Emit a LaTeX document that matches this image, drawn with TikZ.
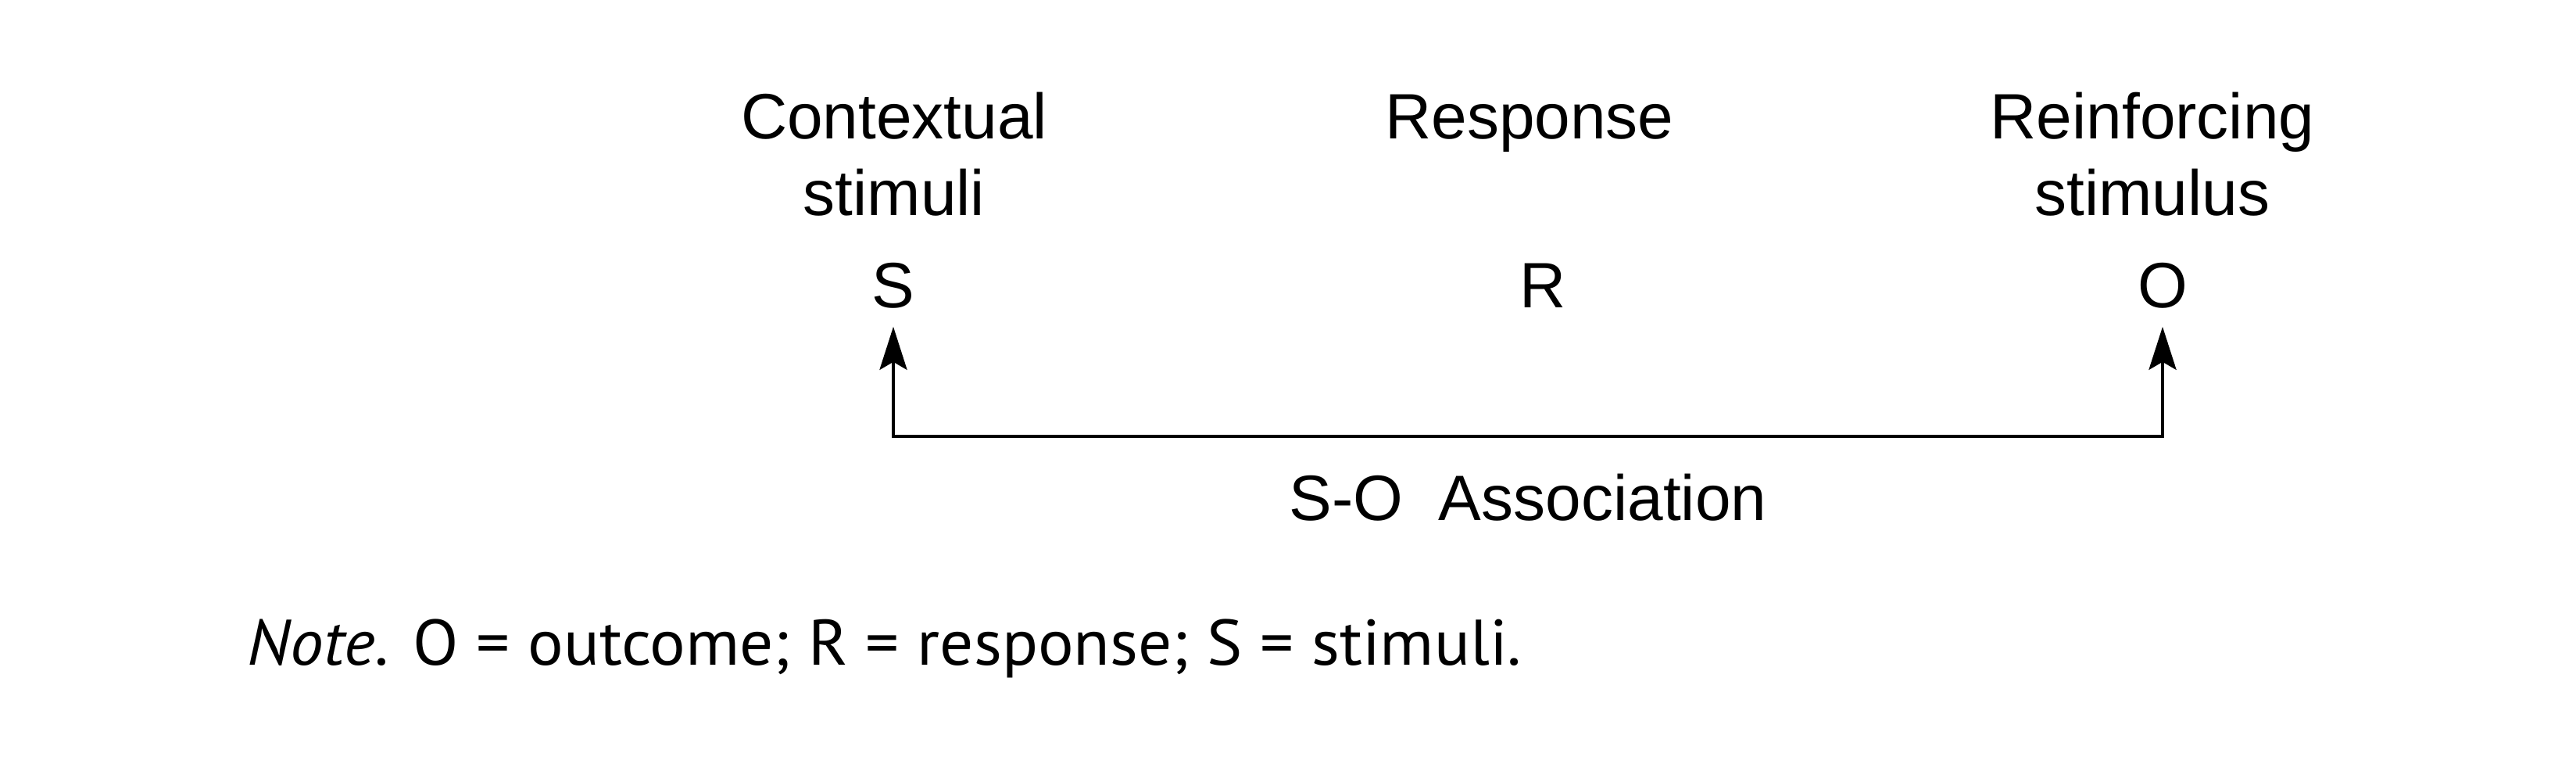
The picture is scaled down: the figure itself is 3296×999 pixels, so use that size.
\documentclass[tikz,border=0pt]{standalone}
\usepackage{fontspec}
\setmainfont{Liberation Sans}
\newfontfamily\notefont{PT Sans}
\usetikzlibrary{arrows.meta}
\begin{document}
\begin{tikzpicture}[x=0.25pt,y=-0.25pt,
  lbl/.style={font=\fontsize{20.5pt}{24.5pt}\selectfont, inner sep=0pt, align=center, anchor=base},
  sym/.style={font=\fontsize{20.5pt}{24.5pt}\selectfont, inner xsep=0pt, inner ysep=6pt, text depth=0pt, anchor=base},
  assoc/.style={font=\fontsize{20.5pt}{24.5pt}\selectfont, inner sep=0pt, anchor=base},
  note/.style={font=\notefont\fontsize{20.6pt}{24pt}\selectfont, inner sep=0pt, anchor=base west},
  link/.style={line width=1.05pt, {Stealth[length=13.75pt,width=8.75pt,inset=2.5pt]}-{Stealth[length=13.75pt,width=8.75pt,inset=2.5pt]}}
]
\useasboundingbox (0,0) rectangle (3296,999);
\node[lbl] (ctx) at (1144,275) {Contextual\\stimuli};
\node[lbl] (resp) at (1957,177) {Response};
\node[lbl] (reinf) at (2754,275) {Reinforcing\\stimulus};
\node[sym] (S) at (1143,393) {S};
\node[sym] (R) at (1974,393) {R};
\node[sym] (O) at (2767,393) {O};
\coordinate (bar) at (1955,558);
\draw[link] (S.south) |- (bar) -| (O.south);
\node[assoc] (so) at (1955,665) {S-O\ \ Association};
\node[note] (nt) at (316,850) {\scalebox{1.035}[1]{\textit{Note.} O = outcome; R = response; S = stimuli.}};
\end{tikzpicture}
\end{document}
